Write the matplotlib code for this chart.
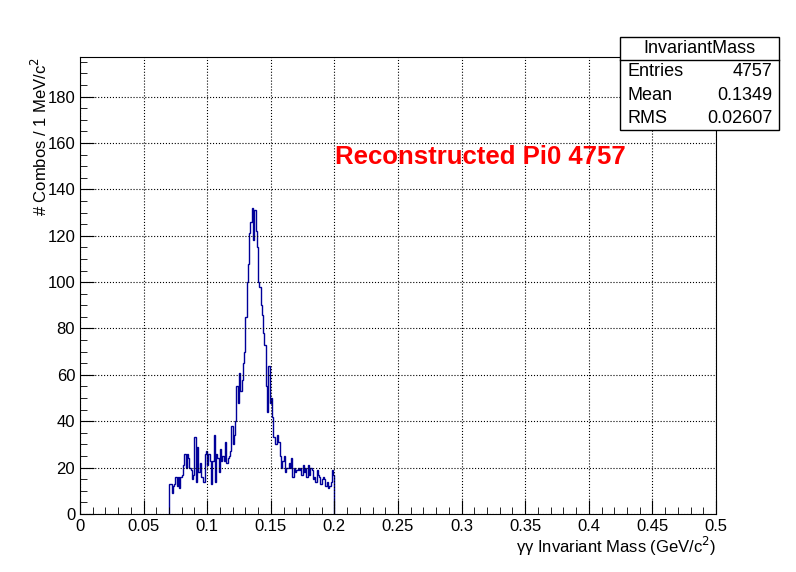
import numpy as np
import matplotlib.pyplot as plt
import matplotlib.ticker as ticker

plt.rcParams['font.family'] = ['Liberation Sans', 'DejaVu Sans']

# 1 MeV bins from 0.070 to 0.200 GeV
bin_lo = 0.070
bin_w = 0.001
counts = [
    13, 13, 9, 12, 13, 16, 12, 16, 11, 16,
    17, 21, 26, 20, 26, 24, 20, 19, 15, 17,
    33, 14, 29, 18, 22, 16, 16, 14, 26, 27,
    21, 26, 23, 13, 23, 34, 14, 26, 24, 18,
    28, 23, 25, 23, 31, 22, 24, 25, 27, 38,
    30, 34, 40, 55, 48, 61, 53, 58, 65, 70,
    85, 100, 108, 121, 126, 132, 118, 131, 122, 115,
    100, 98, 90, 86, 78, 73, 55, 44, 64, 48,
    50, 42, 33, 30, 30, 34, 31, 25, 20, 23,
    25, 18, 20, 20, 22, 20, 24, 16, 20, 18,
    19, 20, 19, 20, 17, 21, 18, 20, 16, 21,
    17, 20, 19, 15, 16, 14, 19, 17, 16, 13,
    15, 16, 15, 12, 14, 11, 12, 14, 19, 17,
]
stat_names = ['Entries', 'Mean', 'RMS']
stat_values = ['4757', '0.1349', '0.02607']

edges = bin_lo + bin_w * np.arange(len(counts) + 1)

fig = plt.figure(figsize=(7.96, 5.72), dpi=100)
ax = fig.add_axes([0.1005, 0.1014, 0.799, 0.7986])
ax.stairs(counts, edges, color='#000099', linewidth=1.0, baseline=0)

ax.set_xlim(0, 0.5)
ax.set_ylim(0, 197)
ax.xaxis.set_major_locator(ticker.MultipleLocator(0.05))
ax.xaxis.set_minor_locator(ticker.MultipleLocator(0.01))
ax.yaxis.set_major_locator(ticker.MultipleLocator(20))
ax.yaxis.set_minor_locator(ticker.MultipleLocator(5))
ax.xaxis.set_major_formatter(ticker.FuncFormatter(lambda v, p: f'{v:g}'))
ax.tick_params(which='both', direction='in', labelsize=12)
ax.tick_params(which='major', length=10)
ax.tick_params(which='minor', length=5)
ax.grid(True, which='major', linestyle=':', color='black', linewidth=0.8)

ax.set_xlabel('γγ Invariant Mass (GeV/c$^2$)', fontsize=12, loc='right', labelpad=1)
ax.set_ylabel('# Combos / 1 MeV/c$^2$', fontsize=12, loc='top', labelpad=-2)

fig.text(0.421, 0.725, 'Reconstructed Pi0 4757', color='red', fontsize=18.5,
         fontweight='bold', ha='left', va='center')

# stats box
bx0, bx1 = 620 / 796, 779 / 796
by_top, by_bot = 1 - 37 / 572, 1 - 130 / 572
fig.patches.append(plt.Rectangle((bx0, by_bot), bx1 - bx0, by_top - by_bot,
                                 transform=fig.transFigure, facecolor='white',
                                 edgecolor='black', linewidth=1))
row_h = (by_top - by_bot) / 4
fig.text((bx0 + bx1) / 2, by_top - row_h / 2, 'InvariantMass', ha='center',
         va='center', fontsize=13)
fig.lines.append(plt.Line2D([bx0, bx1], [by_top - row_h] * 2,
                            transform=fig.transFigure, color='black', linewidth=1))
for i, (n, v) in enumerate(zip(stat_names, stat_values)):
    yy = by_top - row_h * (i + 1.5)
    fig.text(bx0 + 0.01, yy, n, ha='left', va='center', fontsize=13)
    fig.text(bx1 - 0.008, yy, v, ha='right', va='center', fontsize=13)

fig.savefig('out.png', dpi=100)
